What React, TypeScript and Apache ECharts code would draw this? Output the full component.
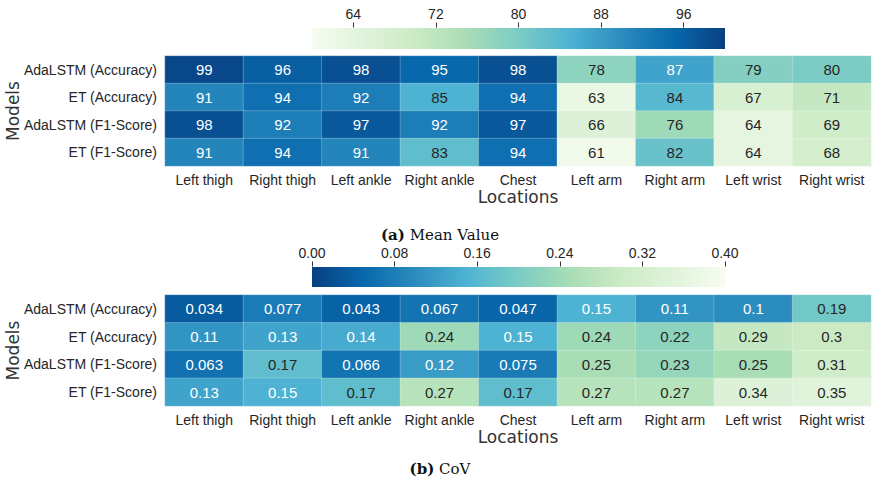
import React, { useEffect, useRef } from "react";
import * as echarts from "echarts";

const locations = ["Left thigh", "Right thigh", "Left ankle", "Right ankle", "Chest", "Left arm", "Right arm", "Left wrist", "Right wrist"];
const models = ["AdaLSTM (Accuracy)", "ET (Accuracy)", "AdaLSTM (F1-Score)", "ET (F1-Score)"];

const meanAdaAcc = [99, 96, 98, 95, 98, 78, 87, 79, 80];
const meanEtAcc = [91, 94, 92, 85, 94, 63, 84, 67, 71];
const meanAdaF1 = [98, 92, 97, 92, 97, 66, 76, 64, 69];
const meanEtF1 = [91, 94, 91, 83, 94, 61, 82, 64, 68];

const covAdaAcc = [0.034, 0.077, 0.043, 0.067, 0.047, 0.15, 0.11, 0.1, 0.19];
const covEtAcc = [0.11, 0.13, 0.14, 0.24, 0.15, 0.24, 0.22, 0.29, 0.3];
const covAdaF1 = [0.063, 0.17, 0.066, 0.12, 0.075, 0.25, 0.23, 0.25, 0.31];
const covEtF1 = [0.13, 0.15, 0.17, 0.27, 0.17, 0.27, 0.27, 0.34, 0.35];

const meanTicks = [64, 72, 80, 88, 96];
const covTicks = [0, 0.08, 0.16, 0.24, 0.32, 0.4];

const GNBU = ["#f7fcf0", "#e0f3db", "#ccebc5", "#a8ddb5", "#7bccc4", "#4eb3d3", "#2b8cbe", "#0868ac", "#084081"];

const meanRows = [meanAdaAcc, meanEtAcc, meanAdaF1, meanEtF1];
const covRows = [covAdaAcc, covEtAcc, covAdaF1, covEtF1];

const DARK = "#262626";

function buildData(rows: number[][], isWhite: (v: number) => boolean) {
  const out: any[] = [];
  rows.forEach((row, y) => {
    row.forEach((v, x) => {
      out.push({ value: [x, y, v], label: { color: isWhite(v) ? "#ffffff" : DARK } });
    });
  });
  return out;
}

const SANS = "'Liberation Sans', Arial, sans-serif";
const DEJAVU = "'DejaVu Sans', sans-serif";
const SERIF = "'DejaVu Serif', serif";

const GL = 165;
const GW = 706;
const CBL = 312;
const CBW = 413;

export default function App() {
  const ref = useRef<HTMLDivElement>(null);
  useEffect(() => {
    document.body.style.margin = "0";
    if (!ref.current) return;
    const chart = echarts.init(ref.current, null, { renderer: "svg" });

    const heatX = (gridIndex: number) => ({
      type: "category",
      gridIndex,
      data: locations,
      position: "bottom",
      axisLine: { show: false },
      axisTick: { show: false },
      splitLine: { show: false },
      axisLabel: { fontFamily: SANS, fontSize: 14, color: DARK, margin: 7, interval: 0 },
      name: "Locations",
      nameLocation: "middle",
      nameGap: 22,
      nameMoveOverlap: false,
      nameTextStyle: { fontFamily: DEJAVU, fontSize: 17, color: "#333333" },
    });
    const heatY = (gridIndex: number) => ({
      type: "category",
      gridIndex,
      data: models,
      inverse: true,
      axisLine: { show: false },
      axisTick: { show: false },
      splitLine: { show: false },
      axisLabel: { fontFamily: SANS, fontSize: 14, color: DARK, margin: 8, interval: 0 },
      name: "Models",
      nameLocation: "middle",
      nameRotate: 90,
      nameGap: 144,
      nameMoveOverlap: false,
      nameTextStyle: { fontFamily: DEJAVU, fontSize: 17, color: "#333333" },
    });
    const cbX = (gridIndex: number, min: number, max: number, ticks: number[], fmt: (v: number) => string) => ({
      type: "value",
      gridIndex,
      min,
      max,
      position: "top",
      axisLine: { show: false, onZero: false },
      splitLine: { show: false },
      axisTick: { show: true, inside: false, length: 5, customValues: ticks, lineStyle: { color: "#333333", width: 1 } },
      axisLabel: { customValues: ticks, formatter: fmt, fontFamily: SANS, fontSize: 14, color: DARK, margin: 7 },
    });
    const cbY = (gridIndex: number) => ({
      type: "value",
      gridIndex,
      show: false,
      min: 0,
      max: 1,
    });

    const series = (xi: number, data: any[]) => ({
      type: "heatmap",
      xAxisIndex: xi,
      yAxisIndex: xi,
      data,
      label: {
        show: true,
        fontFamily: SANS,
        fontSize: 15,
        formatter: (p: any) => String(p.value[2]),
      },
      itemStyle: { borderColor: "rgba(255,255,255,0.22)", borderWidth: 1 },
      emphasis: { disabled: true },
    });

    const gradStops = (colors: string[]) => colors.map((c, i) => ({ offset: i / (colors.length - 1), color: c }));

    chart.setOption({
      animation: false,
      backgroundColor: "#ffffff",
      grid: [
        { left: GL, width: GW, top: 56, height: 110, outerBoundsMode: "none" },
        { left: GL, width: GW, top: 295, height: 111, outerBoundsMode: "none" },
        { left: CBL, width: CBW, top: 27.5, height: 0.5, outerBoundsMode: "none" },
        { left: CBL, width: CBW, top: 266.5, height: 0.5, outerBoundsMode: "none" },
      ],
      xAxis: [
        heatX(0),
        heatX(1),
        cbX(2, 60, 100, meanTicks, (v: number) => String(v)),
        cbX(3, 0, 0.4, covTicks, (v: number) => v.toFixed(2)),
      ],
      yAxis: [heatY(0), heatY(1), cbY(2), cbY(3)],
      visualMap: [
        { type: "continuous", show: false, seriesIndex: 0, dimension: 2, min: 60, max: 100, inRange: { color: GNBU } },
        { type: "continuous", show: false, seriesIndex: 1, dimension: 2, min: 0, max: 0.4, inRange: { color: GNBU.slice().reverse() } },
      ],
      series: [
        series(0, buildData(meanRows, (v) => v >= 86)),
        series(1, buildData(covRows, (v) => v < 0.16)),
      ],
      graphic: [
        {
          type: "rect",
          z: -10,
          shape: { x: CBL, y: 28, width: CBW, height: 21 },
          style: { fill: new echarts.graphic.LinearGradient(0, 0, 1, 0, gradStops(GNBU)) },
          silent: true,
        },
        {
          type: "rect",
          z: -10,
          shape: { x: CBL, y: 267, width: CBW, height: 20 },
          style: { fill: new echarts.graphic.LinearGradient(0, 0, 1, 0, gradStops(GNBU.slice().reverse())) },
          silent: true,
        },
        {
          type: "text",
          x: 440,
          y: 227,
          style: {
            text: "{b|(a)} Mean Value",
            align: "center",
            verticalAlign: "top",
            font: `15px ${SERIF}`,
            fill: "#111111",
            rich: { b: { fontFamily: SERIF, fontSize: 15, fontWeight: "bold", fill: "#111111" } },
          },
        },
        {
          type: "rect",
          shape: { x: 300, y: 242.5, width: 440, height: 3 },
          style: { fill: "#ffffff" },
          silent: true,
        },
        {
          type: "text",
          x: 440,
          y: 461,
          style: {
            text: "{b|(b)} CoV",
            align: "center",
            verticalAlign: "top",
            font: `15px ${SERIF}`,
            fill: "#111111",
            rich: { b: { fontFamily: SERIF, fontSize: 15, fontWeight: "bold", fill: "#111111" } },
          },
        },
      ],
    });
    return () => chart.dispose();
  }, []);
  return <div ref={ref} style={{ width: 879, height: 478 }} />;
}
